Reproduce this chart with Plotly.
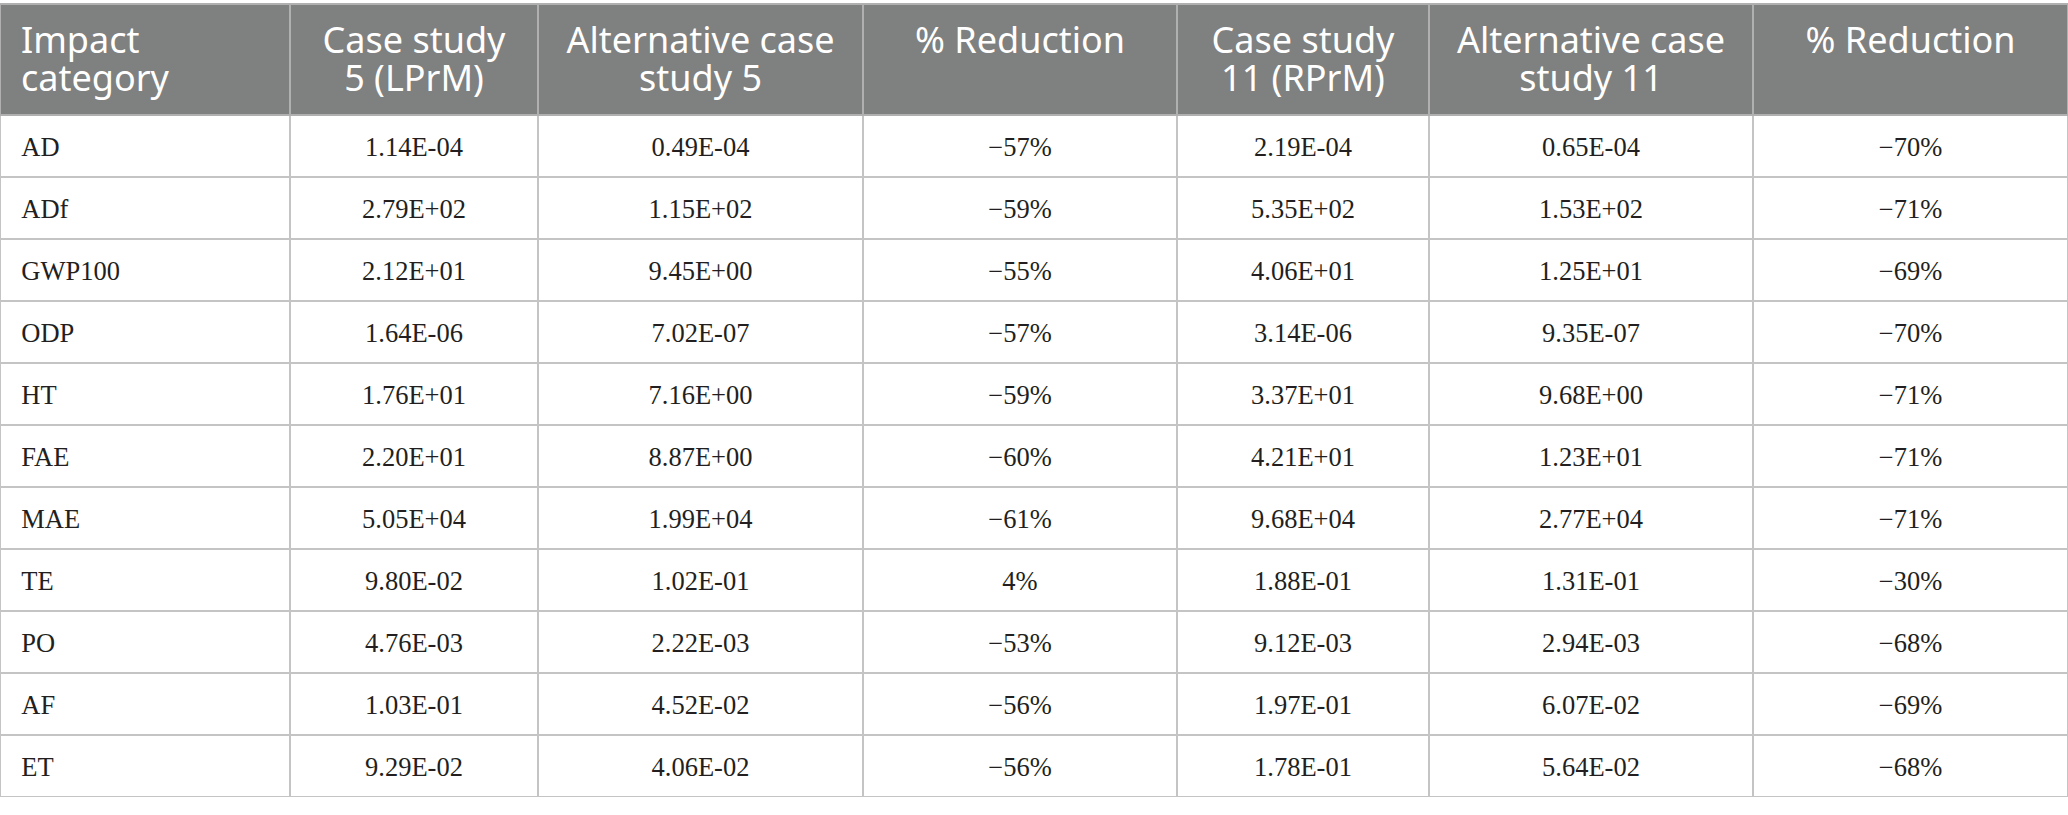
import plotly.graph_objects as go

# table content
header_line1 = ["Impact", "Case study", "Alternative case", "% Reduction",
                "Case study", "Alternative case", "% Reduction"]
header_line2 = ["category", "5 (LPrM)", "study 5", "", "11 (RPrM)", "study 11", ""]

categories = ["AD", "ADf", "GWP100", "ODP", "HT", "FAE", "MAE", "TE", "PO", "AF", "ET"]
case5 = ["1.14E-04", "2.79E+02", "2.12E+01", "1.64E-06", "1.76E+01", "2.20E+01",
         "5.05E+04", "9.80E-02", "4.76E-03", "1.03E-01", "9.29E-02"]
alt5 = ["0.49E-04", "1.15E+02", "9.45E+00", "7.02E-07", "7.16E+00", "8.87E+00",
        "1.99E+04", "1.02E-01", "2.22E-03", "4.52E-02", "4.06E-02"]
red5 = ["−57%", "−59%", "−55%", "−57%", "−59%", "−60%", "−61%", "4%", "−53%", "−56%", "−56%"]
case11 = ["2.19E-04", "5.35E+02", "4.06E+01", "3.14E-06", "3.37E+01", "4.21E+01",
          "9.68E+04", "1.88E-01", "9.12E-03", "1.97E-01", "1.78E-01"]
alt11 = ["0.65E-04", "1.53E+02", "1.25E+01", "9.35E-07", "9.68E+00", "1.23E+01",
         "2.77E+04", "1.31E-01", "2.94E-03", "6.07E-02", "5.64E-02"]
red11 = ["−70%", "−71%", "−69%", "−70%", "−71%", "−71%", "−71%", "−30%", "−68%", "−69%", "−68%"]

col_widths = [290, 248, 325, 314, 252, 324, 315]

W, H = 2068, 815
top, bottom = 4, 797      # table edges in px
hdr_h, row_h = 111, 62
nb = "\u00a0"

columns = [[nb * 2 + c for c in categories], case5, alt5, red5, case11, alt11, red11]
align = ["left"] + ["center"] * 6
clear = "rgba(0,0,0,0)"
hdr_font = dict(family="Noto Sans", size=36, color="white")


def ydom(y0, y1):
    # pixel rows (from top) -> paper domain
    return [1 - y1 / H, 1 - y0 / H]


fig = go.Figure()

# grid + fills, no text
fig.add_trace(go.Table(
    domain=dict(x=[0, 1], y=ydom(top, bottom)),
    columnwidth=col_widths,
    header=dict(values=[""] * 7, fill_color="#7f8080", height=hdr_h,
                line=dict(color="#b0b0b0", width=2)),
    cells=dict(values=[[""] * len(categories)] * 7, fill_color="white", height=row_h,
               line=dict(color="#c4c4c4", width=2)),
))

# body text, pushed down so it sits mid-row
shift = 13
fig.add_trace(go.Table(
    domain=dict(x=[0, 1], y=ydom(top + shift, bottom + shift)),
    columnwidth=col_widths,
    header=dict(values=[""] * 7, height=hdr_h, fill_color=clear, line=dict(width=0)),
    cells=dict(values=columns, align=align, height=row_h,
               fill_color=clear, line=dict(width=0),
               font=dict(family="Liberation Serif", size=26.5, color="#231f20")),
))

# header text, one layer per line so each line is centred on its own
for lines, s in [(header_line1, 14), (header_line2, 52)]:
    fig.add_trace(go.Table(
        domain=dict(x=[0, 1], y=ydom(top + s, top + s + hdr_h)),
        columnwidth=col_widths,
        header=dict(values=[nb + "\u200a" + lines[0]] + lines[1:], align=align,
                    height=hdr_h, fill_color=clear, line=dict(width=0), font=hdr_font),
        cells=dict(values=[[] for _ in range(7)], fill_color=clear, line=dict(width=0)),
    ))

fig.update_layout(width=W, height=H, margin=dict(l=0, r=0, t=0, b=0),
                  paper_bgcolor="white")

# drop the browser's default 8px body margin so the figure fills the window
fig.write_html("out.html", config={"displayModeBar": False},
               post_script="document.body.style.margin='0';document.body.style.overflow='hidden';")
